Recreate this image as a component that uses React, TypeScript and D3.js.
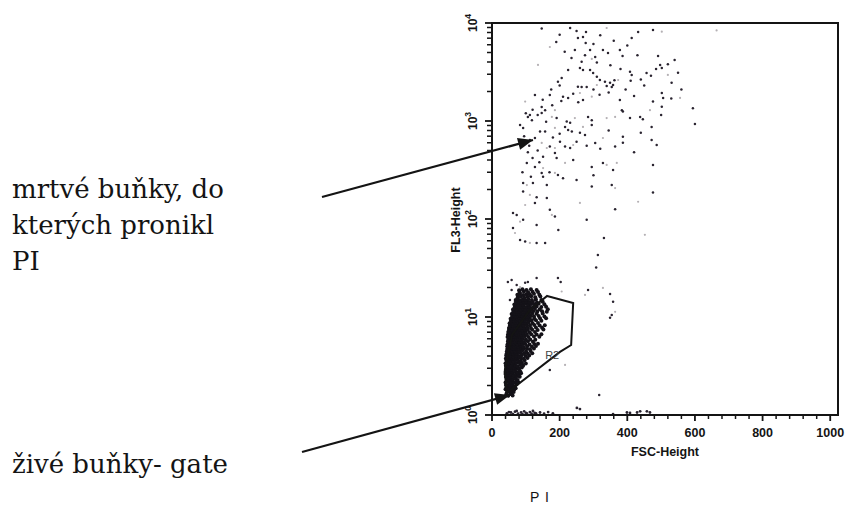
import React from "react";
import * as d3 from "d3";

// ---------- data ----------
const xTickValues = [0, 200, 400, 600, 800, 1000];
const yTickValues = [1, 10, 100, 1000, 10000];
const yTickExponents = ["0", "1", "2", "3", "4"];

const xAxisTitle = "FSC-Height";
const yAxisTitle = "FL3-Height";
const gateName = "R2";
const deadLabelLines = ["mrtvé buňky, do", "kterých pronikl", "PI"];
const liveLabel = "živé buňky- gate";
const footerLabel = "P I";

// gate R2 polygon [FSC, FL3]
const gateR2: [number, number][] = [
  [163, 16.4], [240, 13.9], [234, 5.18], [201, 4.4], [44, 1.68], [38, 2.88], [59, 6.55], [112, 11.8],
];

// live cells (dense cluster) [FSC, FL3]
const liveCells: [number, number][] = [
  [42,1.62],[48,1.57],[55,1.64],[61,1.58],
  [44,1.7],[51,1.73],[57,1.68],[64,1.72],
  [40,1.83],[46,1.78],[52,1.85],[58,1.79],[66,1.82],
  [43,1.92],[49,1.88],[56,1.93],[63,1.9],[70,1.87],
  [41,2.02],[45,1.96],[50,2.05],[54,1.98],[60,2.03],[67,1.97],[73,2.06],
  [40,2.14],[46,2.18],[52,2.12],[58,2.17],[64,2.13],[71,2.19],[78,2.15],
  [43,2.28],[47,2.35],[51,2.26],[57,2.33],[62,2.29],[69,2.36],[76,2.27],
  [41,2.44],[45,2.49],[50,2.42],[55,2.47],[60,2.5],[66,2.43],[73,2.48],[82,2.45],
  [40,2.62],[44,2.57],[49,2.66],[53,2.59],[58,2.64],[64,2.55],[71,2.63],[79,2.58],[86,2.67],
  [40,2.74],[44,2.79],[48,2.72],[53,2.77],[57,2.8],[62,2.73],[69,2.78],[76,2.71],[84,2.76],
  [42,2.93],[46,2.86],[51,2.95],[55,2.88],[60,2.92],[66,2.85],[72,2.96],[80,2.9],
  [43,3.04],[47,3.09],[50,3.02],[55,3.07],[59,3.1],[65,3.03],[71,3.08],[79,3.01],[88,3.06],
  [41,3.18],[45,3.26],[48,3.15],[53,3.23],[57,3.17],[62,3.27],[68,3.2],[75,3.14],[83,3.25],[92,3.19],
  [40,3.38],[44,3.44],[49,3.36],[52,3.42],[56,3.46],[61,3.37],[66,3.43],[72,3.39],[80,3.45],[89,3.4],[100,3.35],
  [43,3.62],[47,3.55],[50,3.66],[55,3.58],[59,3.64],[64,3.54],[70,3.67],[77,3.6],[85,3.56],[96,3.63],
  [41,3.78],[45,3.84],[49,3.76],[53,3.82],[57,3.86],[61,3.77],[66,3.83],[71,3.79],[78,3.85],[86,3.8],[94,3.75],[105,3.81],
  [42,4.05],[46,3.96],[51,4.08],[54,3.98],[58,4.03],[63,3.94],[67,4.07],[73,4.0],[80,3.95],[88,4.06],[99,3.99],[110,4.04],
  [43,4.22],[47,4.29],[50,4.2],[55,4.27],[59,4.31],[63,4.23],[68,4.28],[74,4.21],[79,4.3],[86,4.24],[95,4.27],[106,4.22],[119,4.26],
  [44,4.46],[48,4.55],[52,4.43],[56,4.52],[61,4.47],[65,4.56],[70,4.44],[76,4.53],[82,4.48],[90,4.57],[101,4.45],[114,4.51],
  [45,4.72],[50,4.79],[54,4.7],[58,4.77],[63,4.81],[68,4.73],[73,4.78],[79,4.71],[86,4.8],[94,4.74],[103,4.77],[112,4.7],[124,4.76],
  [45,5.03],[49,4.94],[53,5.08],[58,4.97],[62,5.05],[67,4.93],[72,5.06],[78,4.99],[85,5.09],[93,4.95],[104,5.04],[118,4.98],[130,5.07],
  [46,5.27],[50,5.34],[54,5.25],[57,5.32],[61,5.36],[66,5.28],[71,5.33],[76,5.26],[83,5.35],[90,5.29],[99,5.31],[111,5.24],[125,5.3],[136,5.33],
  [47,5.62],[51,5.54],[55,5.68],[59,5.57],[64,5.65],[69,5.52],[74,5.66],[80,5.59],[87,5.63],[95,5.55],[106,5.67],[121,5.58],
  [48,5.87],[53,5.95],[57,5.84],[62,5.92],[66,5.97],[72,5.88],[77,5.93],[84,5.85],[91,5.96],[100,5.89],[113,5.91],[128,5.86],
  [46,6.26],[50,6.38],[54,6.22],[60,6.34],[65,6.28],[70,6.4],[76,6.24],[82,6.33],[89,6.27],[97,6.37],[108,6.25],[124,6.32],[140,6.29],
  [47,6.6],[52,6.7],[56,6.58],[62,6.68],[68,6.72],[73,6.62],[79,6.69],[86,6.59],[94,6.71],[103,6.63],[116,6.67],[132,6.61],[146,6.66],
  [48,7.05],[53,6.93],[57,7.1],[62,6.97],[67,7.06],[72,6.92],[78,7.08],[85,7.0],[92,6.95],[100,7.07],[111,6.98],[127,7.04],
  [50,7.35],[55,7.46],[60,7.33],[65,7.44],[70,7.49],[76,7.37],[82,7.43],[89,7.34],[97,7.47],[106,7.39],[119,7.42],[135,7.36],[152,7.45],
  [50,7.74],[55,7.88],[59,7.7],[64,7.85],[69,7.77],[75,7.9],[81,7.72],[88,7.84],[95,7.79],[104,7.87],[115,7.73],[130,7.82],[148,7.76],
  [53,8.2],[58,8.32],[63,8.17],[69,8.29],[74,8.34],[80,8.22],[87,8.27],[94,8.19],[102,8.31],[112,8.24],[125,8.28],[141,8.21],[156,8.26],
  [52,8.65],[57,8.78],[62,8.6],[67,8.74],[72,8.68],[78,8.8],[84,8.62],[91,8.72],[99,8.66],[108,8.77],[120,8.63],[136,8.71],
  [56,9.14],[61,9.27],[66,9.11],[72,9.24],[78,9.3],[84,9.17],[91,9.22],[98,9.13],[107,9.28],[117,9.19],[130,9.25],[146,9.16],
  [55,9.62],[60,9.78],[65,9.6],[70,9.74],[75,9.66],[81,9.8],[88,9.63],[95,9.72],[103,9.67],[112,9.77],[125,9.64],[142,9.73],[160,9.69],
  [60,10.1],[66,10.3],[71,10.05],[77,10.25],[83,10.35],[90,10.15],[97,10.22],[105,10.08],[114,10.28],[124,10.18],[138,10.24],[155,10.12],
  [58,10.7],[63,10.9],[68,10.75],[74,10.85],[80,10.68],[86,10.92],[93,10.73],[100,10.88],[109,10.71],[119,10.83],[132,10.77],[150,10.86],
  [63,11.3],[69,11.5],[75,11.25],[82,11.45],[88,11.55],[95,11.35],[103,11.42],[112,11.28],[122,11.48],[134,11.38],[148,11.44],[162,11.32],
  [62,11.9],[68,12.1],[73,11.85],[79,12.08],[85,11.95],[92,12.12],[99,11.88],[107,12.05],[116,11.92],[127,12.1],[141,11.97],[165,12.03],
  [67,12.6],[74,12.8],[80,12.55],[87,12.75],[94,12.85],[102,12.65],[111,12.72],[121,12.58],[132,12.78],[146,12.68],[160,12.74],
  [66,13.4],[72,13.65],[78,13.35],[85,13.6],[92,13.45],[99,13.7],[107,13.38],[116,13.55],[126,13.42],[138,13.62],[155,13.5],
  [72,14.1],[79,14.35],[86,14.05],[94,14.3],[102,14.4],[111,14.15],[121,14.25],[133,14.1],[150,14.3],
  [70,14.9],[77,15.15],[84,14.85],[91,15.1],[99,14.95],[108,15.2],[118,14.88],[130,15.05],[146,14.92],
  [76,15.9],[85,16.2],[95,15.85],[105,16.1],[116,16.25],[128,15.95],[143,16.15],
  [75,16.9],[83,17.2],[92,16.8],[101,17.1],[112,16.95],[124,17.25],[140,16.85],
  [82,17.9],[94,18.2],[107,17.85],[120,18.1],[136,18.0],
  [80,18.8],[90,19.2],[102,18.9],[115,19.15],[132,18.85],
];

// dead (PI positive) cells and sparse events [FSC, FL3]
const deadCells: [number, number][] = [
  [147,8800],[231,8900],[278,8090],[432,8090],[476,8490],[413,7030],[254,7030],[269,7200],[277,6250],
  [245,5300],[290,5300],[328,5300],[343,4940],[378,5300],[386,4610],[491,4610],[265,4030],[310,3950],
  [497,3730],[502,3470],[225,3310],[260,3470],[269,3310],[290,3310],[299,3090],[408,3180],[413,2950],
  [457,3090],[550,3110],[206,2750],[195,2520],[310,2830],[319,2620],[334,2520],[349,2450],[358,2330],
  [410,2580],[531,2450],[254,2240],[265,2220],[280,2220],[339,2280],[354,2220],[127,1840],[171,1840],
  [210,1770],[225,1720],[269,1640],[378,1640],[502,1930],[506,1720],[476,1580],[502,1400],[147,1390],
  [157,1290],[384,1290],[387,1250],[594,1350],[600,931],[112,1150],[106,1100],[147,1210],[191,1070],
  [221,990],[231,960],[284,1100],[295,1020],[408,1070],[438,1100],[446,1040],[472,870],[83,910],[92,849],
  [142,780],[157,780],[216,870],[225,810],[236,780],[295,910],[112,640],[127,670],[171,550],[201,615],
  [216,550],[231,530],[250,615],[275,720],[305,597],[364,550],[387,690],[387,600],[472,640],[487,569],
  [106,480],[151,432],[186,471],[191,419],[240,400],[103,373],[127,340],[295,340],[328,373],[358,316],
  [476,356],[147,295],[151,270],[195,281],[92,233],[121,233],[162,222],[295,215],[354,222],[476,186],
  [92,191],[132,167],[162,164],
  [118,1020],[135,1150],[160,980],[178,1450],[205,1600],[240,1900],[255,1550],[300,2100],[318,1850],
  [345,1950],[362,2600],[395,2100],[420,1800],[450,2300],[470,2900],[485,3400],[520,3800],[540,4200],
  [430,4700],[400,5900],[360,6600],[320,7500],[300,6100],[250,8300],[200,7600],[190,6400],[215,5100],
  [235,4400],[275,4700],[305,4500],[350,3700],[380,3400],[440,2650],[200,2300],[175,2100],[150,1650],
  [120,1300],[100,1200],[95,700],[110,560],[135,500],[180,680],[200,740],[260,760],[280,560],[320,520],
  [345,800],[420,480],[440,760],[500,1150],[530,1700],[560,2100],[120,420],[140,380],[170,300],[210,260],
  [250,250],[300,280],[90,300],[115,270],
  [62,115],[73,110],[127,146],[171,124],[186,106],[92,98],[132,87],[196,77],[62,81],[83,61],[98,59],
  [132,57],[157,57],[280,98],[364,126],[331,64],[313,43],[308,32],[349,17.2],[358,14.3],[349,9.8],
  [354,10.5],[284,18.9],[317,1.6],[171,2.88],
  [47,22.8],[58,23.9],[73,21.2],[98,22.3],[106,22.8],[132,25],[195,25],[203,22.8],[58,18.9],[93,16.8],
  [112,16.2],[127,14.9],[53,14.9],[68,14.3],
];

// faint grey events [FSC, FL3]
const faintEvents: [number, number][] = [
  [339,8890],[502,8150],[171,5690],[295,4300],[136,3730],[373,2620],[520,2950],[310,2330],[260,1930],
  [295,1770],[556,1720],[98,1580],[186,1290],[467,1290],[177,1100],[245,1070],[339,1070],[364,1100],
  [186,849],[269,870],[147,597],[186,530],[240,569],[328,671],[92,597],[162,530],[216,373],[151,331],
  [339,356],[369,373],[186,295],[103,222],[364,207],[112,176],[664,8400],[98,139],[177,110],[83,94],
  [68,72],[112,57],[260,146],[432,150],[328,19.8],[364,11.3],[275,16.8],[452,69],[216,3.24],[83,20.2],
  [78,18.2],[206,18.2],[88,13.8],
];

// events piled on the FL3 baseline [FSC, FL3]
const baselineEvents: [number, number][] = [
  [44,1.04],[50,1.07],[56,1.06],[62,1.02],[68,1.08],[73,1.1],[77,1.03],[86,1.06],[90,1.02],[95,1.09],
  [100,1.05],[103,1.04],[112,1.07],[117,1.03],[121,1.1],[126,1.05],[130,1.04],[142,1.06],[154,1.03],
  [166,1.07],[180,1.04],[251,1.18],[260,1.15],[358,1.02],[399,1.06],[408,1.05],[429,1.06],[438,1.09],
  [458,1.09],[467,1.06],
];

// ---------- layout ----------
const W = 848;
const H = 515;
const PLOT = { left: 492, right: 838, top: 23, bottom: 415 };
const SANS = "'Liberation Sans', Arial, Helvetica, sans-serif";
const SERIF = "DejaVu Serif";
const INK = "#141414";

const arrowDead = { x1: 322, y1: 197, x2: 533, y2: 140 };
const arrowLive = { x1: 302, y1: 452, x2: 510, y2: 395 };

function arrowHead(a: { x1: number; y1: number; x2: number; y2: number }, len = 15, half = 6) {
  const dx = a.x2 - a.x1;
  const dy = a.y2 - a.y1;
  const L = Math.hypot(dx, dy);
  const ux = dx / L, uy = dy / L;
  const bx = a.x2 - ux * len, by = a.y2 - uy * len;
  const px = -uy, py = ux;
  return `${a.x2},${a.y2} ${bx + px * half},${by + py * half} ${bx - px * half},${by - py * half}`;
}

export default function App() {
  const x = d3.scaleLinear().domain([0, 1023]).range([PLOT.left, PLOT.right]);
  const y = d3.scaleLog().domain([1, 10000]).range([PLOT.bottom, PLOT.top]);

  const xMinor = d3.range(0, 1024, 40).filter((v) => v % 200 !== 0);
  const yMinor = yTickValues.slice(0, -1).flatMap((d) => d3.range(2, 10).map((k) => d * k));

  const gatePath = d3.line<[number, number]>().x((d) => x(d[0])).y((d) => y(d[1])).curve(d3.curveLinearClosed)(gateR2) || "";

  return (
    <div style={{ position: "absolute", left: 0, top: 0 }}>
      <svg width={W} height={H} viewBox={`0 0 ${W} ${H}`} style={{ display: "block", background: "#fff" }}>
        <g>
          {faintEvents.map((d, i) => (
            <circle key={"f" + i} cx={x(d[0])} cy={y(d[1])} r={1.1} fill="#b4b0b4" />
          ))}
          {deadCells.map((d, i) => (
            <circle key={"d" + i} cx={x(d[0])} cy={y(d[1])} r={1.25} fill="#2a2430" />
          ))}
          {baselineEvents.map((d, i) => (
            <circle key={"b" + i} cx={x(d[0])} cy={y(d[1])} r={1.4} fill="#2a2430" />
          ))}
          {liveCells.map((d, i) => (
            <circle key={"l" + i} cx={x(d[0])} cy={y(d[1])} r={2} fill="#141218" />
          ))}
        </g>

        <path d={gatePath} fill="none" stroke={INK} strokeWidth={2} strokeLinejoin="miter" />
        <text x={x(178)} y={y(3.75)} fontFamily={SANS} fontSize={11} fill="#444" textAnchor="middle">
          {gateName}
        </text>

        <rect x={PLOT.left} y={PLOT.top} width={PLOT.right - PLOT.left} height={PLOT.bottom - PLOT.top} fill="none" stroke={INK} strokeWidth={2} />

        {xMinor.map((v) => (
          <line key={"xm" + v} x1={x(v)} x2={x(v)} y1={PLOT.bottom} y2={PLOT.bottom + 4} stroke={INK} strokeWidth={1.5} />
        ))}
        {xTickValues.map((v) => (
          <line key={"xM" + v} x1={x(v)} x2={x(v)} y1={PLOT.bottom} y2={PLOT.bottom + 6} stroke={INK} strokeWidth={1.8} />
        ))}
        {xTickValues.map((v) => (
          <text key={"xl" + v} x={x(v)} y={437} textAnchor="middle" fontFamily={SANS} fontWeight="bold" fontSize={12.5} fill={INK}>
            {v}
          </text>
        ))}
        <text x={(PLOT.left + PLOT.right) / 2} y={456} textAnchor="middle" fontFamily={SANS} fontWeight="bold" fontSize={12.5} fill={INK}>
          {xAxisTitle}
        </text>

        {yMinor.map((v) => (
          <line key={"ym" + v} x1={PLOT.left - 5} x2={PLOT.left} y1={y(v)} y2={y(v)} stroke={INK} strokeWidth={1.5} />
        ))}
        {yTickValues.map((v) => (
          <line key={"yM" + v} x1={PLOT.left - 7} x2={PLOT.left} y1={y(v)} y2={y(v)} stroke={INK} strokeWidth={1.8} />
        ))}
        {yTickValues.map((v, i) => (
          <text key={"yl" + v} transform={`translate(477,${y(v)}) rotate(-90)`} textAnchor="middle" fontFamily={SANS} fontWeight="bold" fontSize={12} fill={INK}>
            <tspan>10</tspan>
            <tspan dy={-6} fontSize={8.5}>
              {yTickExponents[i]}
            </tspan>
          </text>
        ))}
        <text transform={`translate(460,${220}) rotate(-90)`} textAnchor="middle" fontFamily={SANS} fontWeight="bold" fontSize={12.5} fill={INK}>
          {yAxisTitle}
        </text>

        <line x1={arrowDead.x1} y1={arrowDead.y1} x2={arrowDead.x2} y2={arrowDead.y2} stroke={INK} strokeWidth={2.2} />
        <polygon points={arrowHead(arrowDead)} fill={INK} />
        <line x1={arrowLive.x1} y1={arrowLive.y1} x2={arrowLive.x2} y2={arrowLive.y2} stroke={INK} strokeWidth={2.2} />
        <polygon points={arrowHead(arrowLive)} fill={INK} />

        {deadLabelLines.map((t, i) => (
          <text key={"dl" + i} x={12} y={198 + i * 36} fontSize={26} fill={INK} style={{ fontFamily: SERIF }}>
            {t}
          </text>
        ))}
        <text x={12} y={473} fontSize={26} fill={INK} style={{ fontFamily: SERIF }}>
          {liveLabel}
        </text>
        <text x={540} y={502} textAnchor="middle" fontFamily={SANS} fontSize={14} fill={INK} letterSpacing={1}>
          {footerLabel}
        </text>
      </svg>
    </div>
  );
}
